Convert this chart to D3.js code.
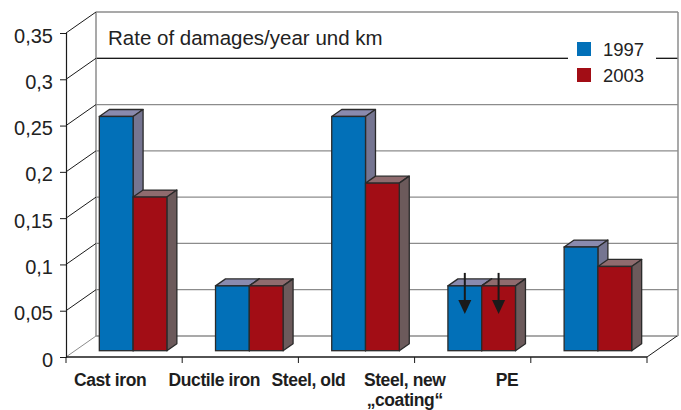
<!DOCTYPE html>
<html>
<head>
<meta charset="utf-8">
<title>Rate of damages</title>
<script src="https://cdn.jsdelivr.net/npm/d3@7"></script>
<style>
  body { margin: 0; background: #fff; }
  svg { display: block; font-family: "Liberation Sans", Arial, sans-serif; }
</style>
</head>
<body>
<div id="chart"></div>
<script>
// data
var categories = ["Cast iron", "Ductile iron", "Steel, old", "Steel, new", "PE"];
var secondLine = ["", "", "", "\u201Ecoating\u201C", ""];
var series = ["1997", "2003"];
var values1997 = [0.253, 0.070, 0.253, 0.070, 0.112];
var values2003 = [0.166, 0.070, 0.181, 0.070, 0.091];
var yTicks = [0, 0.05, 0.1, 0.15, 0.2, 0.25, 0.3, 0.35];
var arrowCats = ["Steel, new"];
var title = "Rate of damages/year und km";

var W = 681, H = 410;
var colors = {
  "1997": { front: "#0270b8", top: "#8a8aae", side: "#757591" },
  "2003": { front: "#a20d15", top: "#8f6b6e", side: "#6c5a5b" }
};
// label shift (px) from band centre, as in the original
var labelDx = [-14, -26, -48, -68, -82];

var DX = 30, DY = -21;          // full depth of the box
var barZ0 = 0.30, barZ1 = 0.633; // bar depth (fraction)

var svg = d3.select("#chart").append("svg")
  .attr("width", W).attr("height", H);

var y = d3.scaleLinear().domain([0, 0.35]).range([357, 33]);
var x0 = d3.scaleBand().domain(categories).range([66, 647]);
var x1 = d3.scaleBand().domain(series).range([0, x0.bandwidth()]).paddingOuter(0.72);

// back wall grid
var back = svg.append("g");
back.selectAll("line.grid").data(yTicks).enter().append("line")
  .attr("x1", 66 + DX).attr("x2", 647 + DX + 1)
  .attr("y1", function(d) { return y(d) + DY; })
  .attr("y2", function(d) { return y(d) + DY; })
  .attr("stroke", "#8c8c8c").attr("stroke-width", 1.3);
// title box bottom line
back.append("line")
  .attr("x1", 66 + DX).attr("x2", 647 + DX + 1)
  .attr("y1", y(0.3) + DY).attr("y2", y(0.3) + DY)
  .attr("stroke", "#1a1a1a").attr("stroke-width", 1.3);
// back vertical edges
back.append("line").attr("x1", 66 + DX).attr("x2", 66 + DX)
  .attr("y1", y(0.35) + DY).attr("y2", y(0) + DY)
  .attr("stroke", "#8c8c8c").attr("stroke-width", 1.5);
back.append("line").attr("x1", 647 + DX + 1).attr("x2", 647 + DX + 1)
  .attr("y1", y(0.35) + DY).attr("y2", y(0) + DY)
  .attr("stroke", "#8c8c8c").attr("stroke-width", 1.5);
// left wall diagonals
back.selectAll("line.diag").data(yTicks).enter().append("line")
  .attr("x1", 66).attr("x2", 66 + DX)
  .attr("y1", function(d) { return y(d); })
  .attr("y2", function(d) { return y(d) + DY; })
  .attr("stroke", function(d) { return d === 0 ? "#8c8c8c" : "#1a1a1a"; })
  .attr("stroke-width", 1);
// floor right diagonal
back.append("line").attr("x1", 647).attr("x2", 647 + DX)
  .attr("y1", y(0)).attr("y2", y(0) + DY)
  .attr("stroke", "#1a1a1a").attr("stroke-width", 1);

// title
svg.append("text").attr("x", 108).attr("y", 45)
  .attr("font-size", 20.5).attr("fill", "#222").text(title);

// legend
var leg = svg.append("g");
leg.append("rect").attr("x", 568).attr("y", 36).attr("width", 88).attr("height", 52).attr("fill", "#fff");
series.forEach(function(s, i) {
  leg.append("rect").attr("x", 577).attr("y", 42 + i * 26).attr("width", 14).attr("height", 14)
    .attr("fill", colors[s].front);
  leg.append("text").attr("x", 603).attr("y", 56 + i * 26)
    .attr("font-size", 18.5).attr("fill", "#222").text(s);
});

// bars
var bx = DX * barZ0, by = DY * barZ0;
var ddx = DX * (barZ1 - barZ0), ddy = DY * (barZ1 - barZ0);
var rows = categories.map(function(c, i) {
  return { cat: c, vals: [values1997[i], values2003[i]] };
});
var groups = svg.selectAll("g.cat").data(rows).enter().append("g").attr("class", "cat");
groups.each(function(r) {
  var g = d3.select(this);
  series.forEach(function(s, j) {
    var v = r.vals[j];
    var xl = x0(r.cat) + x1(s) + bx, xr = xl + x1.bandwidth();
    var yt = y(v) + by, yb = y(0) + by;
    var line = d3.line();
    g.append("path").attr("d", line([[xl, yt], [xr, yt], [xr + ddx, yt + ddy], [xl + ddx, yt + ddy]]) + "Z")
      .attr("fill", colors[s].top).attr("stroke", "#2a2a2a").attr("stroke-width", 1.3).attr("stroke-linejoin", "round");
    g.append("path").attr("d", line([[xr, yt], [xr + ddx, yt + ddy], [xr + ddx, yb + ddy], [xr, yb]]) + "Z")
      .attr("fill", colors[s].side).attr("stroke", "#2a2a2a").attr("stroke-width", 1.3).attr("stroke-linejoin", "round");
    g.append("rect").attr("x", xl).attr("y", yt).attr("width", xr - xl).attr("height", yb - yt)
      .attr("fill", colors[s].front).attr("stroke", "#2a2a2a").attr("stroke-width", 1.3);
    if (arrowCats.indexOf(r.cat) >= 0) {
      var cx = (xl + xr) / 2;
      g.append("line").attr("x1", cx).attr("x2", cx).attr("y1", yt - 13).attr("y2", yt + 16)
        .attr("stroke", "#1a1a1a").attr("stroke-width", 2);
      g.append("path").attr("d", line([[cx - 6.5, yt + 14], [cx + 6.5, yt + 14], [cx, yt + 28]]) + "Z")
        .attr("fill", "#1a1a1a");
    }
  });
});

// front y axis
var yAxis = svg.append("g").attr("transform", "translate(66,0)")
  .call(d3.axisLeft(y).tickValues(yTicks).tickSize(6).tickPadding(7)
    .tickFormat(function(d) { return d3.format("")(d).replace(".", ","); }));
yAxis.select(".domain").attr("stroke", "#1a1a1a").attr("stroke-width", 1.2);
yAxis.selectAll(".tick line").attr("stroke", "#1a1a1a");
yAxis.selectAll(".tick text").attr("font-size", 20).attr("fill", "#222")
  .attr("font-family", "Liberation Sans, Arial, sans-serif").attr("dy", "0.45em");

// front x axis
var xAxis = svg.append("g").attr("transform", "translate(0," + y(0) + ")");
xAxis.append("line").attr("x1", 66).attr("x2", 647).attr("stroke", "#1a1a1a").attr("stroke-width", 1.3);
var edges = categories.map(function(c) { return x0(c); }).concat([647]);
xAxis.selectAll("line.tk").data(edges).enter().append("line")
  .attr("x1", function(d) { return d; }).attr("x2", function(d) { return d; })
  .attr("y1", 0).attr("y2", 6).attr("stroke", "#1a1a1a");
var lab = xAxis.selectAll("text.lab").data(categories).enter().append("text")
  .attr("text-anchor", "middle")
  .attr("x", function(d, i) { return x0(d) + x0.bandwidth() / 2 + labelDx[i]; })
  .attr("y", 29)
  .attr("font-size", 17.5).attr("font-weight", "bold").attr("letter-spacing", -0.4)
  .attr("fill", "#1e1e1e");
lab.append("tspan").text(function(d) { return d; });
lab.append("tspan")
  .attr("x", function(d, i) { return x0(d) + x0.bandwidth() / 2 + labelDx[i]; })
  .attr("dy", 20)
  .text(function(d, i) { return secondLine[i]; });
</script>
</body>
</html>
